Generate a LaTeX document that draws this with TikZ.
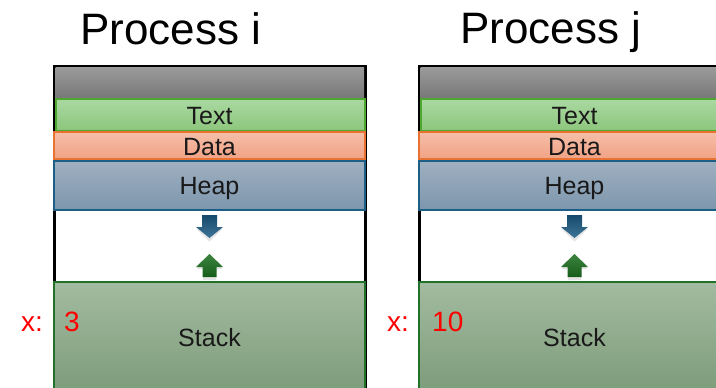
\documentclass[tikz,border=0pt]{standalone}
\usepackage{fontspec}
\setmainfont{Liberation Sans}
\usetikzlibrary{calc}
\definecolor{grayT}{HTML}{9A9A9A}
\definecolor{grayB}{HTML}{777777}
\definecolor{textT}{HTML}{AAD9A2}
\definecolor{textB}{HTML}{8CC57C}
\definecolor{textD}{HTML}{4EA72E}
\definecolor{dataT}{HTML}{F6BEA8}
\definecolor{dataB}{HTML}{F0A285}
\definecolor{dataD}{HTML}{E97132}
\definecolor{heapT}{HTML}{9FB0C0}
\definecolor{heapB}{HTML}{7D96AD}
\definecolor{heapD}{HTML}{1B5E86}
\definecolor{stackT}{HTML}{A3BBA0}
\definecolor{stackB}{HTML}{7A9A77}
\definecolor{stackD}{HTML}{23702A}
\definecolor{arrB}{HTML}{1C5C86}
\definecolor{arrG}{HTML}{1B6E1F}
\tikzset{
  title/.style={font=\fontsize{44}{50}\selectfont, inner sep=0pt, anchor=base},
  seglabel/.style={font=\fontsize{25}{30}\selectfont, inner sep=0pt, anchor=base, text=black!90},
  redlabel/.style={font=\fontsize{28}{32}\selectfont, inner sep=0pt, anchor=base west, text=red},
  outerbox/.style={draw=black, line width=3pt, fill=white},
  segtext/.style={draw=textD, line width=2pt, top color=textT, bottom color=textB},
  segdata/.style={draw=dataD, line width=2pt, top color=dataT, bottom color=dataB},
  segheap/.style={draw=heapD, line width=2pt, top color=heapT, bottom color=heapB},
  segstack/.style={draw=stackD, line width=2pt, top color=stackT, bottom color=stackB},
  arrshadow/.style={fill=black, opacity=0.10},
}
\begin{document}
\begin{tikzpicture}[x=1pt,y=-1pt]
\clip (0,0) rectangle (716,388);
\fill[white] (0,0) rectangle (716,388);

\node[title] (ti) at (171,45) {Process i};
\node[title] (tj) at (551,43.3) {Process j};

\foreach \dx/\nm/\val in {0/i/3, 365/j/10} {
  \begin{scope}[xshift=\dx]
    \draw[outerbox] (54,66) rectangle (365.5,400);
    \shade[top color=grayT, bottom color=grayB] (55.5,67.5) rectangle (364,99);
    \draw[segtext] (55.5,99) rectangle (365,131);
    \draw[segdata] (53.5,132) rectangle (365,159);
    \draw[segheap] (53.5,160.5) rectangle (365,210);
    \draw[segstack] (53.5,281.5) rectangle (365,400);
    \node[seglabel] (text\nm) at (209.5,124) {Text};
    \node[seglabel] (data\nm) at (209.5,155) {Data};
    \node[seglabel] (heap\nm) at (209.5,194) {Heap};
    \node[seglabel] (stack\nm) at (209.5,346) {Stack};
    % shadows
    \fill[arrshadow] (203,218) -- (216,218) -- (216,229) -- (222.5,229) -- (209.5,241.5) -- (196.5,229) -- (203,229) -- cycle;
    \fill[arrshadow] (209.5,256) -- (222.5,269) -- (216,269) -- (216,280) -- (203,280) -- (203,269) -- (196.5,269) -- cycle;
    % down arrow (blue)
    \shade[top color=arrB!80!black, bottom color=arrB!85!white] (202,215) -- (217,215) -- (217,227) -- (223,227) -- (209.5,238) -- (196,227) -- (202,227) -- cycle;
    % up arrow (green)
    \shade[top color=arrG!85!white, bottom color=arrG!85!black] (209.5,254) -- (223,267) -- (216.5,267) -- (216.5,277) -- (202.5,277) -- (202.5,267) -- (196,267) -- cycle;
  \end{scope}
}
\node[redlabel] (xi) at (21,331.7) {x:};
\node[redlabel] (vi) at (64,331.7) {3};
\node[redlabel] (xj) at (387,331.7) {x:};
\node[redlabel] (vj) at (432,331.7) {10};
\end{tikzpicture}
\end{document}
